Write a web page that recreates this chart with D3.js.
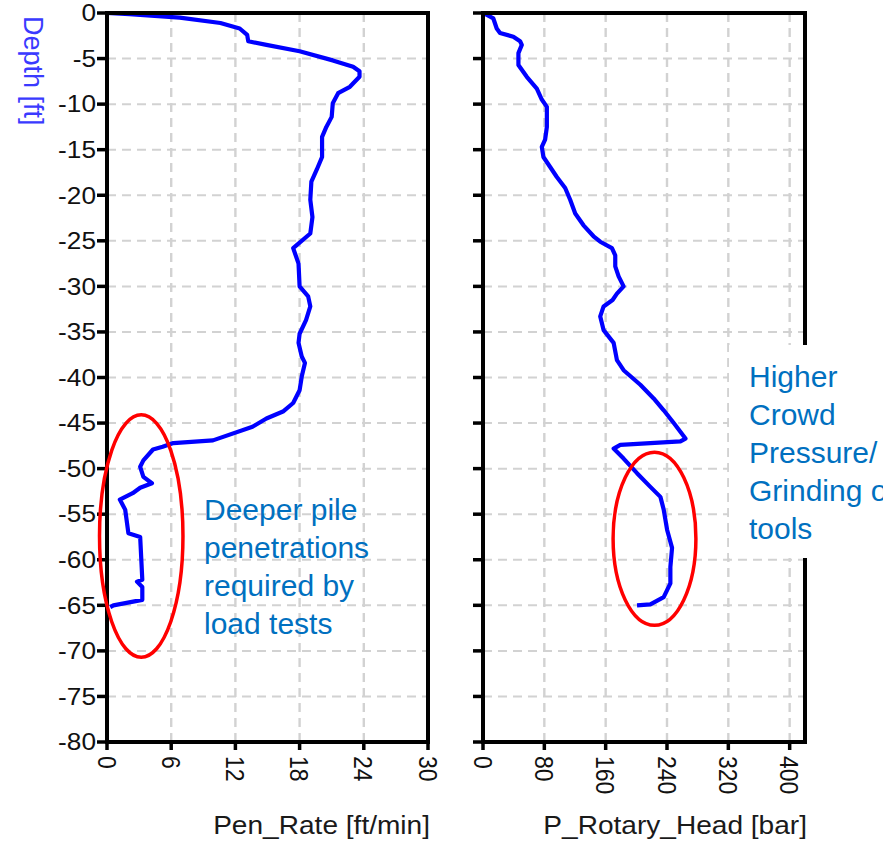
<!DOCTYPE html>
<html>
<head>
<meta charset="utf-8">
<script src="https://cdn.jsdelivr.net/npm/d3@7"></script>
<style>
  html, body { margin: 0; padding: 0; background: #fff; }
  svg { display: block; font-family: "Liberation Sans", Arial, sans-serif; }
</style>
</head>
<body>
<svg id="chart" width="883" height="845"></svg>
<script>
// Depth profile of the drilled pile (ft, negative downwards)
const depthTicks = d3.range(0, -85, -5);

// Penetration rate log
const penDepth = [0, -0.14, -0.5, -1.1, -1.7, -2.4, -3.1, -3.5, -4.2, -5.2, -5.9, -6.4, -7.0, -8.1, -8.8, -9.9,
  -11.4, -12.5, -13.6, -15.8, -17.2, -18.5, -20.5, -22.4, -24.2, -25.5, -25.8, -27.5, -30.0, -31.1, -32.2,
  -33.7, -35.2, -36.2, -37.7, -38.4, -39.9, -41.4, -42.8, -43.7, -44.5, -45.4, -46.9, -47.2, -47.6, -47.9,
  -49.1, -49.8, -50.9, -51.6, -52.1, -52.7, -53.4, -54.5, -57.1, -57.5, -62.2, -62.4, -63.0, -64.4, -65.0, -65.2];
const penRate = [0, 2.1, 6.8, 10.6, 12.4, 13.1, 13.2, 14.9, 18.0, 21.1, 23.0, 23.6, 23.6, 22.7, 21.6, 21.1,
  21.0, 20.5, 20.1, 20.1, 19.6, 19.1, 19.0, 19.2, 19.0, 17.7, 17.4, 17.9, 18.0, 18.8, 19.0,
  18.6, 18.0, 17.9, 18.2, 18.5, 18.2, 18.0, 17.4, 16.5, 14.9, 13.6, 9.9, 6.2, 5.2, 4.3,
  3.4, 3.1, 3.4, 4.2, 3.1, 2.4, 1.2, 1.7, 2.0, 3.1, 3.3, 2.8, 3.3, 3.3, 0.6, 0.3];
const penTicks = [0, 6, 12, 18, 24, 30];

// Rotary head pressure log
const rotDepth = [0, -0.6, -1.7, -2.2, -2.6, -3.1, -3.5, -4.4, -5.7, -7.0, -8.3, -9.5, -10.3, -12.5, -13.9,
  -14.7, -15.8, -16.9, -18.0, -19.2, -20.5, -22.0, -23.3, -24.5, -25.1, -25.8, -26.6, -27.8, -28.9, -30.0,
  -30.8, -31.5, -32.2, -33.3, -34.8, -36.2, -38.1, -39.2, -40.8, -42.3, -43.6, -45.0, -46.7, -47.0, -47.2,
  -47.4, -47.8, -48.9, -50.5, -52.0, -53.1, -54.5, -56.7, -58.7, -60.8, -62.6, -64.1, -64.9, -65.0];
const rotPressure = [0.4, 13.5, 17.9, 22.2, 39.6, 48.4, 50.6, 46.2, 46.2, 57.1, 70.2, 76.7, 83.3, 83.3, 81.0,
  76.7, 78.8, 87.6, 96.3, 107.2, 113.7, 120.3, 131.1, 144.2, 152.9, 168.2, 172.5, 172.5, 176.9, 183.4,
  174.7, 169.0, 157.3, 152.9, 157.3, 170.4, 174.7, 183.4, 205.2, 222.6, 235.7, 248.8, 264.1, 257.5, 218.3,
  179.1, 170.4, 183.4, 200.9, 218.3, 231.4, 235.7, 240.1, 246.6, 244.4, 244.4, 235.7, 218.3, 200.9];
const rotTicks = [0, 80, 160, 240, 320, 400];

// Highlighted zones: [centre value, centre depth, half-width (value units), half-height (ft)]
const penZone = [3.2, -57.4, 3.9, 13.3];
const rotZone = [223.7, -57.7, 54, 9.5];

const penNote = ["Deeper pile", "penetrations", "required by", "load tests"];
const rotNote = ["Higher", "Crowd", "Pressure/", "Grinding of", "tools"];

const svg = d3.select("#chart");
const y = d3.scaleLinear().domain([0, -80]).range([13, 742]);
const xPen = d3.scaleLinear().domain([0, 30]).range([107, 428]);
const xRot = d3.scaleLinear().domain([0, 420]).range([483, 805]);

const stretch = 1.14;
const tickFont = 23;

function panel(x, ticks, depth, values, showDepthLabels, title) {
  const g = svg.append("g");
  const [x0, x1] = x.range();
  const [y0, y1] = y.range();

  // dashed grid
  g.selectAll(".hg").data(depthTicks.slice(1, -1)).join("line")
    .attr("x1", x0).attr("x2", x1).attr("y1", d => y(d)).attr("y2", d => y(d))
    .attr("stroke", "#d2d2d2").attr("stroke-width", 2).attr("stroke-dasharray", "9,6");
  g.selectAll(".vg").data(ticks.filter(t => x(t) > x0 + 1 && x(t) < x1 - 1)).join("line")
    .attr("x1", d => x(d)).attr("x2", d => x(d)).attr("y1", y0).attr("y2", y1)
    .attr("stroke", "#d2d2d2").attr("stroke-width", 2.4).attr("stroke-dasharray", "9,6");

  // data trace
  const pts = depth.map((d, i) => [values[i], d]);
  g.append("path").datum(pts)
    .attr("d", d3.line().x(p => x(p[0])).y(p => y(p[1])))
    .attr("fill", "none").attr("stroke", "#0000ff").attr("stroke-width", 4.2)
    .attr("stroke-linejoin", "round");

  // frame
  g.append("rect").attr("x", x0).attr("y", y0).attr("width", x1 - x0).attr("height", y1 - y0)
    .attr("fill", "none").attr("stroke", "#000").attr("stroke-width", 4);

  // depth ticks
  g.selectAll(".yt").data(depthTicks).join("line")
    .attr("x1", x0 - 10).attr("x2", x0).attr("y1", d => y(d)).attr("y2", d => y(d))
    .attr("stroke", "#000").attr("stroke-width", 3.5);
  if (showDepthLabels) {
    g.selectAll(".yl").data(depthTicks).join("text")
      .attr("transform", d => `translate(${x0 - 11},${y(d)}) scale(${stretch},1)`)
      .attr("text-anchor", "end").attr("dy", "0.36em")
      .attr("font-size", tickFont).attr("fill", "#111")
      .text(d => d === 0 ? "0" : "-" + Math.abs(d));
  }

  // value ticks (rotated labels)
  g.selectAll(".xt").data(ticks).join("line")
    .attr("x1", d => x(d)).attr("x2", d => x(d)).attr("y1", y1).attr("y2", y1 + 8)
    .attr("stroke", "#000").attr("stroke-width", 3.5);
  g.selectAll(".xl").data(ticks).join("text")
    .attr("transform", d => `translate(${x(d)},756) scale(${stretch},1) rotate(90)`)
    .attr("text-anchor", "start").attr("dy", "0.36em")
    .attr("font-size", tickFont).attr("fill", "#111")
    .text(d => d);

  // axis title
  svg.append("text")
    .attr("transform", `translate(${x1 + 2},834) scale(1.08,1)`)
    .attr("text-anchor", "end").attr("font-size", 26).attr("fill", "#1a1a1a")
    .text(title);
}

panel(xPen, penTicks, penDepth, penRate, true, "Pen_Rate [ft/min]");
panel(xRot, rotTicks, rotDepth, rotPressure, false, "P_Rotary_Head [bar]");

// depth axis title
svg.append("text")
  .attr("transform", "translate(33,16) rotate(90)")
  .attr("dy", "0.35em").attr("font-size", 27).attr("fill", "#3a3aff")
  .text("Depth [ft]");

// highlighted zones
function zone(x, z) {
  svg.append("ellipse")
    .attr("cx", x(z[0])).attr("cy", y(z[1]))
    .attr("rx", Math.abs(x(z[0] + z[2]) - x(z[0])))
    .attr("ry", Math.abs(y(z[1] + z[3]) - y(z[1])))
    .attr("fill", "none").attr("stroke", "#ff0000").attr("stroke-width", 3.5);
}
zone(xPen, penZone);
zone(xRot, rotZone);

// notes
const noteColor = "#0070c0";
svg.append("text").attr("font-size", 30).attr("fill", noteColor)
  .selectAll("tspan").data(penNote).join("tspan")
  .attr("x", 204).attr("y", (d, i) => 520 + i * 38).text(d => d);

svg.append("rect").attr("x", 729).attr("y", 345).attr("width", 160).attr("height", 213).attr("fill", "#fff");
svg.append("text").attr("font-size", 30).attr("fill", noteColor)
  .selectAll("tspan").data(rotNote).join("tspan")
  .attr("x", 749).attr("y", (d, i) => 387 + i * 38).text(d => d);
</script>
</body>
</html>
